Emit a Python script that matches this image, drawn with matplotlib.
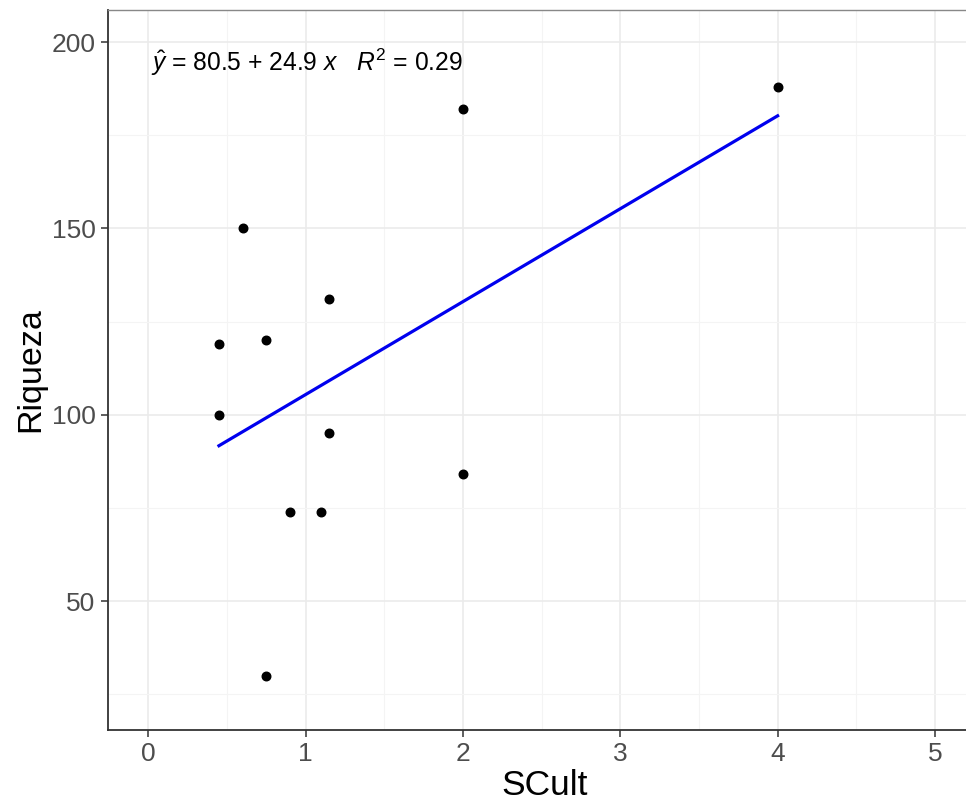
import numpy as np
import matplotlib
matplotlib.use("Agg")
import matplotlib.pyplot as plt

plt.rcParams["font.family"] = ["Liberation Sans", "DejaVu Sans"]
plt.rcParams["mathtext.fontset"] = "custom"
plt.rcParams["mathtext.rm"] = "Liberation Sans"
plt.rcParams["mathtext.it"] = "Liberation Sans:italic"

# ── data ─────────────────────────────────────────────────────────────────────
scult   = [0.45, 0.45, 0.6, 0.75, 0.75, 0.9, 1.1, 1.15, 1.15, 2.0, 2.0, 4.0]
riqueza = [119, 100, 150, 120, 30, 74, 74, 131, 95, 182, 84, 188]
x_ticks = [0, 1, 2, 3, 4, 5]
y_ticks = [50, 100, 150, 200]
# ─────────────────────────────────────────────────────────────────────────────

x = np.array(scult)
y = np.array(riqueza)
slope, intercept = np.polyfit(x, y, 1)
r2 = np.corrcoef(x, y)[0, 1] ** 2

fig = plt.figure(figsize=(9.66, 8.09), dpi=100)
ax = fig.add_axes([0.1118, 0.0977, 0.905, 0.8899])

ax.set_xlim(-0.255, 5.3)
ax.set_ylim(15.4, 208.6)

ax.set_xticks(x_ticks)
ax.set_yticks(y_ticks)
ax.set_xticks(np.arange(0.5, 5.5, 1), minor=True)
ax.set_yticks([25, 75, 125, 175], minor=True)
ax.grid(True, which="major", color="#EBEBEB", linewidth=1.2)
ax.grid(True, which="minor", color="#F4F4F4", linewidth=0.8)
ax.set_axisbelow(True)

ax.tick_params(which="major", direction="out", length=5, width=1.1,
               color="#333333", labelcolor="#4D4D4D", labelsize=19, pad=4)
ax.tick_params(which="minor", length=0)

for side in ["left", "bottom"]:
    ax.spines[side].set_color("#333333")
    ax.spines[side].set_linewidth(1.3)
ax.spines["top"].set_color("#888888")
ax.spines["top"].set_linewidth(1.0)
ax.spines["right"].set_visible(False)

ax.scatter(x, y, s=38, color="black", zorder=3)
xs = np.array([x.min(), x.max()])
ax.plot(xs, intercept + slope * xs, color="#0000EE", linewidth=2.3, zorder=2)

ax.text(0.02, 194.5,
        r"$\hat{y}$ = %.1f + %.1f $x$   $R^2$ = %.2f" % (intercept, slope, r2),
        fontsize=17.7, ha="left", va="center", color="black")

ax.set_xlabel("SCult", fontsize=25.5, labelpad=2)
ax.set_ylabel("Riqueza", fontsize=24.5, labelpad=4)

fig.savefig("out.png", dpi=100)
